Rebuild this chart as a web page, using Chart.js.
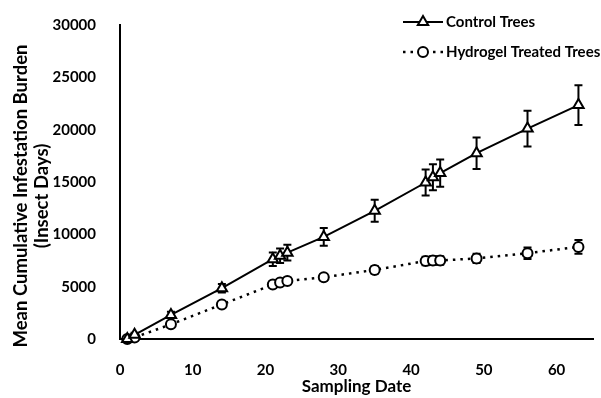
<!DOCTYPE html>
<html>
<head>
<meta charset="utf-8">
<script src="https://cdn.jsdelivr.net/npm/chart.js@4/dist/chart.umd.min.js"></script>
<style>
  body { margin: 0; background: #fff; }
  canvas { display: block; }
</style>
</head>
<body>
<canvas id="cuadroGrafico" width="601" height="398"></canvas>
<script>

// datos
var diasMuestreo = [1, 2, 7, 14, 21, 22, 23, 28, 35, 42, 43, 44, 49, 56, 63];
var arbolesControl = [0, 400, 2300, 4850, 7620, 7950, 8250, 9750, 12250, 14950, 15450, 15850, 17750, 20100, 22350];
var errorControl = [150, 200, 300, 400, 650, 700, 750, 850, 1050, 1250, 1250, 1300, 1500, 1700, 1900];
var arbolesHidrogel = [0, 150, 1400, 3300, 5200, 5400, 5550, 5900, 6600, 7450, 7500, 7500, 7700, 8200, 8800];
var errorHidrogel = [50, 100, 200, 250, 300, 300, 300, 300, 350, 400, 400, 400, 450, 550, 650];

var nombresSeries = ['Control Trees', 'Hydrogel Treated Trees'];
var tituloX = 'Sampling Date';
var tituloY = ['Mean Cumulative Infestation Burden', '(Insect Days)'];

var fuente = 'Lato, "Open Sans", sans-serif';

function armarPuntos (valores) {
    var puntos = [];
    for (var i = 0; i < diasMuestreo.length; i++) {
        puntos.push({x: diasMuestreo[i], y: valores[i]});
    }
    return puntos;
}

// barras de error, dibujadas antes que los puntos
var pluginErrores = {
    id: 'barrasError',
    beforeDatasetsDraw: function (chart) {
        var ctx = chart.ctx;
        var escalaX = chart.scales.x;
        var escalaY = chart.scales.y;
        var series = [[arbolesControl, errorControl], [arbolesHidrogel, errorHidrogel]];
        ctx.save();
        ctx.strokeStyle = '#000';
        ctx.lineWidth = 2;
        series.forEach(function (s) {
            for (var i = 0; i < diasMuestreo.length; i++) {
                var x = escalaX.getPixelForValue(diasMuestreo[i]);
                var arriba = escalaY.getPixelForValue(s[0][i] + s[1][i]);
                var abajo = escalaY.getPixelForValue(s[0][i] - s[1][i]);
                ctx.beginPath();
                ctx.moveTo(x, arriba); ctx.lineTo(x, abajo);
                ctx.moveTo(x - 4, arriba); ctx.lineTo(x + 4, arriba);
                ctx.moveTo(x - 4, abajo); ctx.lineTo(x + 4, abajo);
                ctx.stroke();
            }
        });
        ctx.restore();
    }
};

// leyenda y titulo del eje y
var pluginTextos = {
    id: 'textos',
    afterDraw: function (chart) {
        var ctx = chart.ctx;
        ctx.save();
        ctx.fillStyle = '#000';
        ctx.strokeStyle = '#000';

        // titulo eje y
        ctx.translate(21, 196);
        ctx.rotate(-Math.PI / 2);
        ctx.font = 'bold 18.5px ' + fuente;
        ctx.textAlign = 'center';
        ctx.textBaseline = 'middle';
        ctx.fillText(tituloY[0], 0, 0);
        ctx.fillText(tituloY[1], 0, 21);
        ctx.setTransform(1, 0, 0, 1, 0, 0);

        // leyenda
        var filas = [22, 52];
        ctx.lineWidth = 2;
        ctx.beginPath();
        ctx.moveTo(403, filas[0]); ctx.lineTo(443, filas[0]);
        ctx.stroke();
        ctx.lineWidth = 2.5;
        ctx.setLineDash([2.5, 5]);
        ctx.beginPath();
        ctx.moveTo(403, filas[1]); ctx.lineTo(443, filas[1]);
        ctx.stroke();
        ctx.setLineDash([]);

        ctx.lineWidth = 2;
        ctx.fillStyle = '#fff';
        Chart.helpers.drawPoint(ctx, {pointStyle: 'triangle', radius: 6, rotation: 0, borderWidth: 2}, 423, filas[0]);
        Chart.helpers.drawPoint(ctx, {pointStyle: 'circle', radius: 5, rotation: 0, borderWidth: 2}, 423, filas[1]);

        ctx.fillStyle = '#000';
        ctx.font = 'bold 15px ' + fuente;
        ctx.textAlign = 'left';
        ctx.textBaseline = 'middle';
        ctx.fillText(nombresSeries[0], 446, filas[0]);
        ctx.fillText(nombresSeries[1], 446, filas[1]);
        ctx.restore();
    }
};

function generarGrafico () {

    var cuadroGrafico = document.getElementById('cuadroGrafico');

    var datosImprimir = {
        datasets: [{
            label: nombresSeries[0],
            data: armarPuntos(arbolesControl),
            borderColor: '#000',
            borderWidth: 2,
            pointStyle: 'triangle',
            pointRadius: 6,
            pointBorderWidth: 2,
            pointBackgroundColor: '#fff',
            pointBorderColor: '#000',
            lineTension: 0,
            clip: false
        }, {
            label: nombresSeries[1],
            data: armarPuntos(arbolesHidrogel),
            borderColor: '#000',
            borderWidth: 2.5,
            borderDash: [2.5, 5],
            pointStyle: 'circle',
            pointRadius: 5,
            pointBorderWidth: 2,
            pointBackgroundColor: '#fff',
            pointBorderColor: '#000',
            lineTension: 0,
            clip: false
        }]
    };

    var opcionesGrafico = {
        responsive: false,
        animation: false,
        layout: { padding: { top: 22, right: 0, left: 0, bottom: 0 } },
        plugins: {
            legend: { display: false },
            tooltip: { enabled: false }
        },
        scales: {
            x: {
                type: 'linear',
                min: 0,
                max: 65,
                grid: { display: false },
                border: { display: true, color: '#000', width: 2 },
                ticks: {
                    stepSize: 10,
                    includeBounds: false,
                    color: '#000',
                    padding: 14,
                    maxRotation: 0,
                    font: { family: fuente, size: 15, weight: 'bold' },
                    callback: function (valor) { return String(valor); }
                },
                title: {
                    display: true,
                    text: tituloX,
                    color: '#000',
                    padding: { top: 0, bottom: 1 },
                    font: { family: fuente, size: 17, weight: 'bold' }
                },
                afterFit: function (escala) { escala.height = 59; }
            },
            y: {
                min: 0,
                max: 30000,
                grid: { display: false },
                border: { display: true, color: '#000', width: 2 },
                ticks: {
                    stepSize: 5000,
                    color: '#000',
                    padding: 16,
                    font: { family: fuente, size: 15, weight: 'bold' },
                    callback: function (valor) { return String(valor); }
                },
                afterFit: function (escala) { escala.width = 120; }
            }
        }
    };

    var grafico = new Chart(cuadroGrafico, {
        type: 'line',
        data: datosImprimir,
        options: opcionesGrafico,
        plugins: [pluginErrores, pluginTextos]
    });
}

generarGrafico();
</script>
</body>
</html>
